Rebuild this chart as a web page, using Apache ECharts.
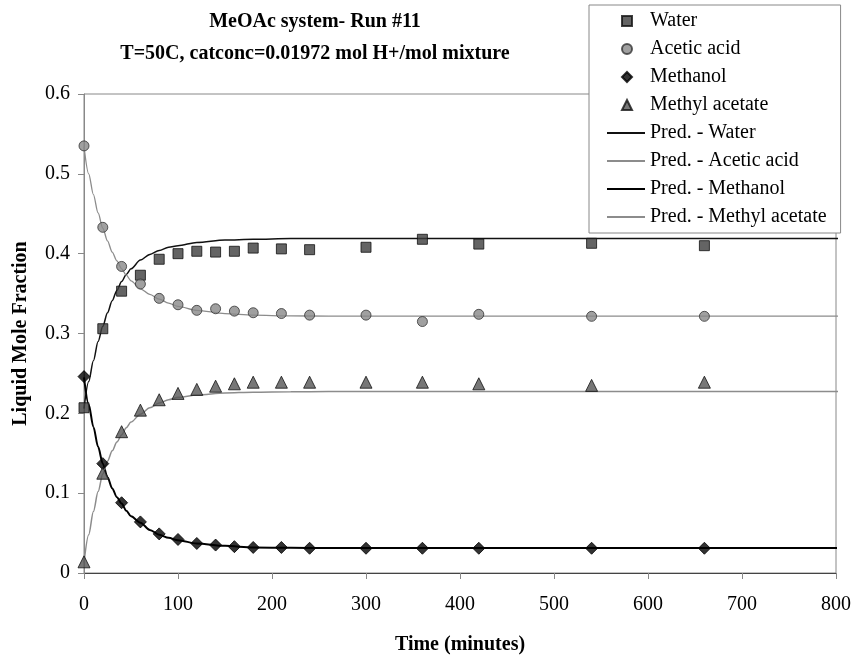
<!DOCTYPE html>
<html>
<head>
<meta charset="utf-8">
<script src="https://cdn.jsdelivr.net/npm/echarts@6/dist/echarts.min.js"></script>
<style>html,body{margin:0;padding:0;background:#fff}#c{width:854px;height:660px}</style>
</head>
<body>
<div id="c"></div>
<script>
// ---- data ----
const obsTime = [0, 20, 40, 60, 80, 100, 120, 140, 160, 180, 210, 240, 300, 360, 420, 540, 660];
const obsWater = [0.207, 0.306, 0.353, 0.373, 0.393, 0.400, 0.403, 0.402, 0.403, 0.407, 0.406, 0.405, 0.408, 0.418, 0.412, 0.413, 0.410];
const obsAcetic = [0.535, 0.433, 0.384, 0.362, 0.344, 0.336, 0.329, 0.331, 0.328, 0.326, 0.325, 0.323, 0.323, 0.315, 0.324, 0.3215, 0.3215];
const obsMethanol = [0.246, 0.137, 0.088, 0.064, 0.049, 0.042, 0.037, 0.035, 0.033, 0.032, 0.032, 0.031, 0.031, 0.031, 0.031, 0.031, 0.031];
const obsMeOAc = [0.014, 0.125, 0.177, 0.204, 0.217, 0.225, 0.230, 0.234, 0.237, 0.239, 0.239, 0.239, 0.239, 0.239, 0.237, 0.235, 0.239];

const predTime = [0, 5, 10, 15, 20, 25, 30, 35, 40, 45, 50, 60, 70, 80, 90, 100, 120, 150, 180, 220, 260, 300, 400, 500, 600, 700, 800, 806];
const predWater = [0.206, 0.240, 0.266, 0.290, 0.309, 0.326, 0.341, 0.354, 0.365, 0.374, 0.381, 0.392, 0.399, 0.404, 0.408, 0.410, 0.414, 0.417, 0.418, 0.419, 0.419, 0.419, 0.419, 0.419, 0.419, 0.419, 0.419, 0.419];
const predAcetic = [0.534, 0.500, 0.474, 0.451, 0.432, 0.416, 0.402, 0.391, 0.381, 0.373, 0.366, 0.356, 0.349, 0.343, 0.338, 0.334, 0.329, 0.325, 0.323, 0.322, 0.3218, 0.3217, 0.3217, 0.3217, 0.3217, 0.3217, 0.3217, 0.3217];
const predMethanol = [0.245, 0.211, 0.183, 0.158, 0.137, 0.120, 0.106, 0.095, 0.087, 0.078, 0.071, 0.063, 0.054, 0.048, 0.044, 0.041, 0.037, 0.034, 0.032, 0.0315, 0.0312, 0.0312, 0.0312, 0.0312, 0.0312, 0.0312, 0.0312, 0.0312];
const predMeOAc = [0.013, 0.048, 0.077, 0.102, 0.124, 0.140, 0.153, 0.164, 0.173, 0.182, 0.189, 0.199, 0.207, 0.213, 0.217, 0.220, 0.223, 0.2255, 0.2265, 0.227, 0.2273, 0.2273, 0.2273, 0.2273, 0.2273, 0.2273, 0.2273, 0.2273];

const xTicks = [0, 100, 200, 300, 400, 500, 600, 700, 800];
const yTicks = [0, 0.1, 0.2, 0.3, 0.4, 0.5, 0.6];

const titleText = 'MeOAc system- Run #11\nT=50C, catconc=0.01972 mol H+/mol mixture';
const xName = 'Time (minutes)';
const yName = 'Liquid Mole Fraction';
const obsNames = ['Water', 'Acetic acid', 'Methanol', 'Methyl acetate'];
const predNames = ['Pred. - Water', 'Pred. - Acetic acid', 'Pred. - Methanol', 'Pred. - Methyl acetate'];

// ---- build ----
const FONT = 'Liberation Serif';
const zip = (xs, ys) => xs.map((x, i) => [x, ys[i]]);

const scatter = (name, data, symbol, size, fill, border) => ({
  name, type: 'scatter', data: zip(obsTime, data), symbol, symbolSize: size, z: 5,
  itemStyle: { color: fill, borderColor: border, borderWidth: 1 }
});
const line = (name, data, color, width) => ({
  name, type: 'line', data: zip(predTime, data), showSymbol: false, symbol: 'none',
  smooth: 0.3, smoothMonotone: 'x', clip: false, z: 3,
  lineStyle: { color, width }, itemStyle: { color }
});

const legendText = { fontFamily: FONT, fontSize: 20, color: '#000', lineHeight: 20 };

const chart = echarts.init(document.getElementById('c'), null, { renderer: 'canvas' });
chart.setOption({
  animation: false,
  backgroundColor: '#fff',
  title: {
    text: titleText, left: 315, top: 6, textAlign: 'center', padding: 0,
    textStyle: { fontFamily: FONT, fontSize: 20, fontWeight: 'bold', color: '#000', lineHeight: 32 }
  },
  legend: [
    {
      // box + prediction lines
      orient: 'vertical', left: 589, top: 5,
      itemWidth: 38, itemHeight: 10, itemGap: 8,
      padding: [118, 14, 6, 17],
      backgroundColor: '#fff', borderColor: '#888', borderWidth: 1,
      textStyle: legendText,
      itemStyle: { opacity: 0 },
      data: predNames, z: 10
    },
    {
      // observed markers
      orient: 'vertical', left: 621, top: 5,
      itemWidth: 10, itemHeight: 10, itemGap: 8,
      padding: [6, 0, 0, 0],
      textStyle: Object.assign({ padding: [0, 0, 0, 13] }, legendText),
      data: obsNames, z: 11
    }
  ],
  grid: { left: 84, right: 17, top: 94, bottom: 85, show: true, borderColor: '#888', borderWidth: 1, backgroundColor: 'transparent' },
  xAxis: {
    type: 'value', min: xTicks[0], max: xTicks[xTicks.length - 1], interval: xTicks[1] - xTicks[0],
    name: xName, nameLocation: 'middle', nameGap: 62,
    nameTextStyle: { fontFamily: FONT, fontSize: 20, fontWeight: 'bold', color: '#000' },
    axisLine: { lineStyle: { color: '#444', width: 1 } },
    axisTick: { show: true, inside: false, length: 6, lineStyle: { color: '#888' } },
    axisLabel: { fontFamily: FONT, fontSize: 20, color: '#000', margin: 22 },
    splitLine: { show: false }
  },
  yAxis: {
    type: 'value', min: yTicks[0], max: yTicks[yTicks.length - 1], interval: 0.1,
    name: yName, nameLocation: 'middle', nameGap: 53,
    nameTextStyle: { fontFamily: FONT, fontSize: 20, fontWeight: 'bold', color: '#000' },
    axisLine: { show: true, lineStyle: { color: '#888', width: 1 } },
    axisTick: { show: true, inside: false, length: 6, lineStyle: { color: '#888' } },
    axisLabel: { fontFamily: FONT, fontSize: 20, color: '#000', margin: 14,
      formatter: v => (v === 0 ? '0' : (+v).toFixed(1)) },
    splitLine: { show: false }
  },
  series: [
    scatter(obsNames[0], obsWater, 'rect', 10, '#3d3d3d', '#111'),
    scatter(obsNames[1], obsAcetic, 'circle', 10, '#888', '#333'),
    scatter(obsNames[2], obsMethanol, 'diamond', 12, '#000', '#000'),
    scatter(obsNames[3], obsMeOAc, 'triangle', 12, '#555', '#111'),
    line(predNames[0], predWater, '#111', 1.5),
    line(predNames[1], predAcetic, '#8c8c8c', 1.3),
    line(predNames[2], predMethanol, '#000', 2),
    line(predNames[3], predMeOAc, '#8c8c8c', 1.5)
  ]
});
</script>
</body>
</html>
